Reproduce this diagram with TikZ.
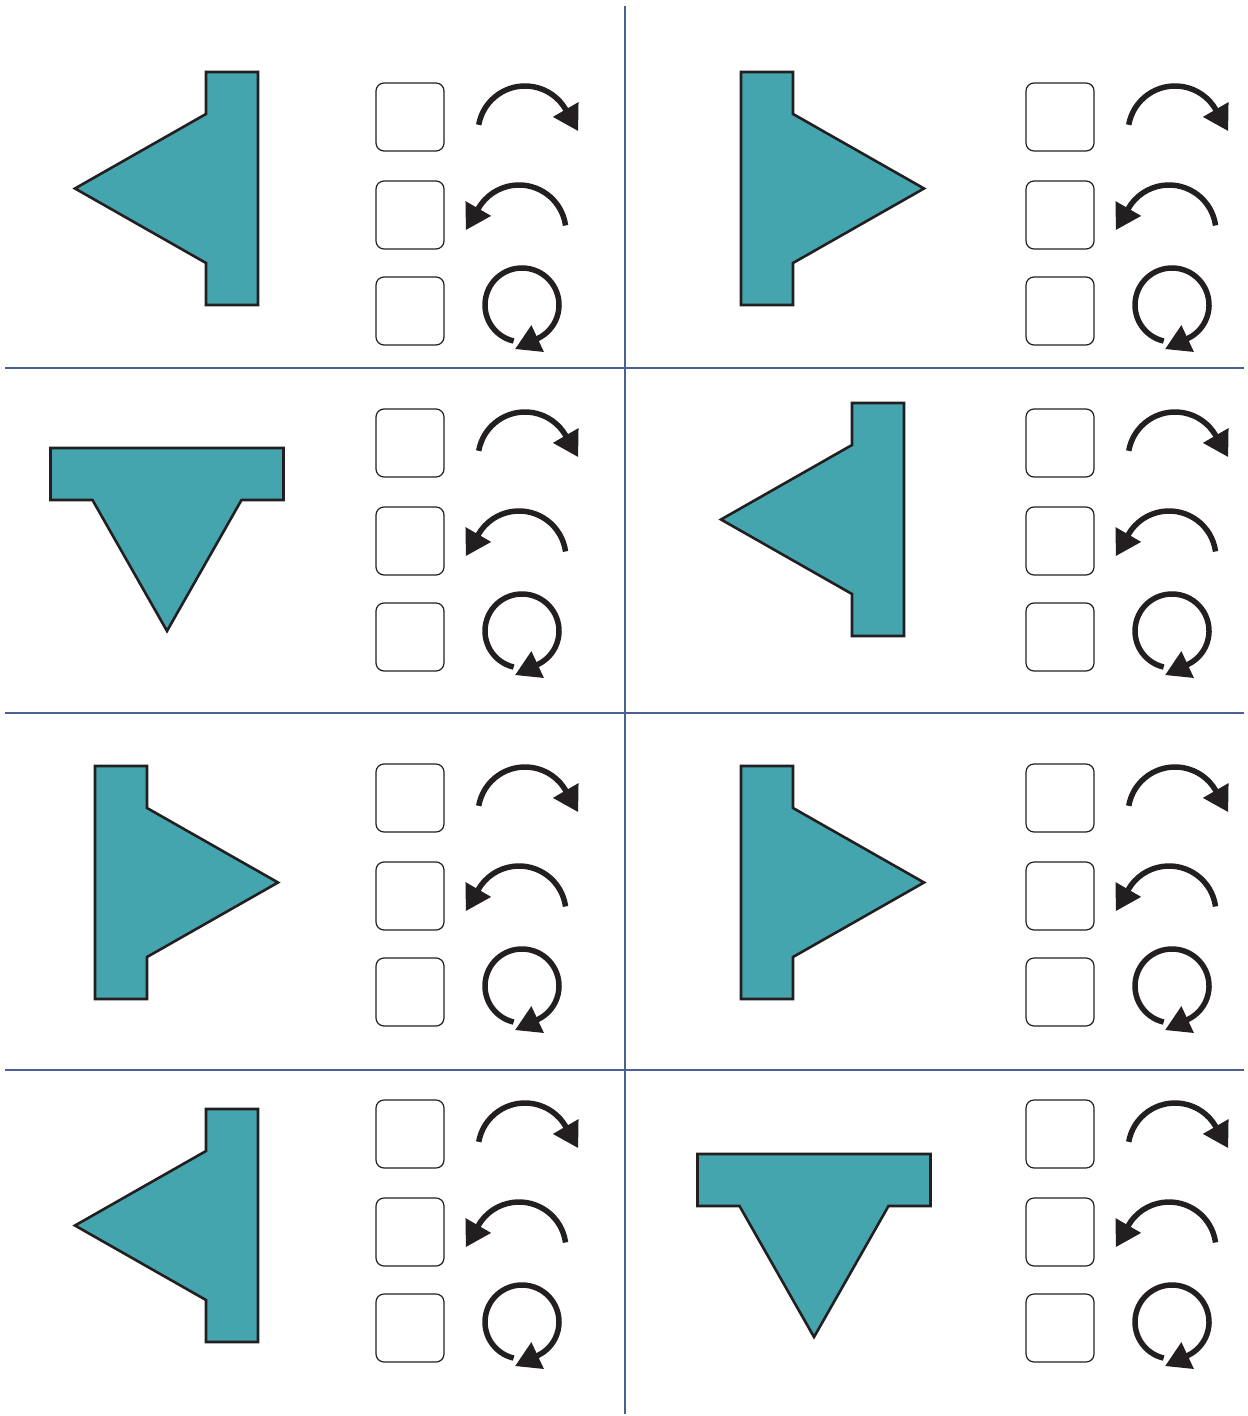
\documentclass[tikz,border=0pt]{standalone}
\usetikzlibrary{arrows.meta}
\definecolor{shapefill}{HTML}{45A5AF}
\definecolor{ink}{HTML}{231F20}
\definecolor{rule}{HTML}{4B6193}

\begin{document}
\begin{tikzpicture}[
  x=0.5pt, y=-0.5pt,
  rule/.style={draw=rule, line width=1.25pt},
  tee/.style={fill=shapefill, draw=ink, line width=1.3pt, line join=miter},
  optbox/.style={draw=ink, line width=0.6pt, rounded corners=4pt},
  turn/.style={draw=ink, line width=2.75pt, -{Triangle[length=12.5pt, width=14pt]}},
  teeshape/.pic={
    \draw[tee] (0,-116.5) -- (52,-116.5) -- (52,116.5) -- (0,116.5)
      -- (0,74.5) -- (-131,0) -- (0,-74.5) -- cycle;
  },
  choices/.pic={
    % three answer boxes
    \foreach \y in {83,181,277}
      \draw[optbox] (376,\y) rectangle ++(68,68);
    % clockwise, anticlockwise, full turn
    \draw[turn] (525,133) ++(-170:47) arc[start angle=-170, end angle=-30, radius=47] -- ++(60:25);
    \draw[turn] (519,232) ++(-8:47) arc[start angle=-8, end angle=-150, radius=47] -- ++(120:25);
    \draw[turn] (522,305) ++(103:37) arc[start angle=103, end angle=425, radius=37] -- ++(155:25);
  },
]
\useasboundingbox (0,0) rectangle (1247,1416);

% grid
\draw[rule] (625,6) -- (625,1414);
\foreach \y in {368,713,1070}
  \draw[rule] (5,\y) -- (1244,\y);

% shapes
\foreach \pos/\ang in {{(206,188.5)}/0, {(793,188.5)}/180,
                       {(167,500)}/90, {(852,519.5)}/0,
                       {(147,882.5)}/180, {(793,882.5)}/180,
                       {(206,1225.5)}/0, {(814,1206)}/90}
  \pic[rotate=\ang] at \pos {teeshape};

% answer columns
\foreach \dx in {0,650}
  \foreach \dy in {0,326,681,1017}
    \pic at (\dx,\dy) {choices};

\end{tikzpicture}
\end{document}
